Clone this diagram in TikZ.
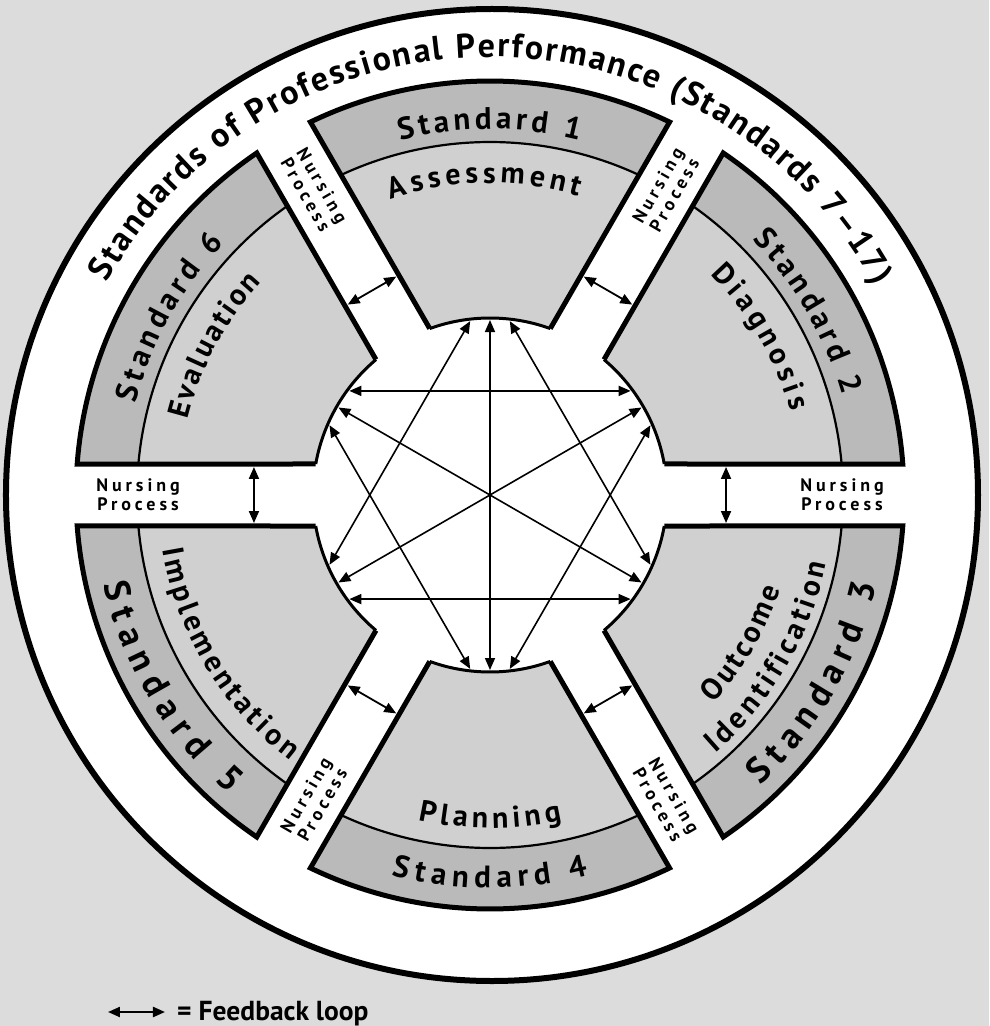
\documentclass[tikz,border=0pt]{standalone}
\usepackage{fontspec}
\setmainfont{PT Sans}
\usetikzlibrary{arrows.meta,decorations.text}

\definecolor{bggray}{RGB}{220,220,220}
\definecolor{secgray}{RGB}{208,208,208}
\definecolor{bandgray}{RGB}{186,186,186}

\newcommand\titlefont{\bfseries\fontsize{34}{34}\selectfont}
\newcommand\stdfont{\bfseries\fontsize{31}{31}\selectfont}
\newcommand\bigstdfont{\bfseries\fontsize{36}{36}\selectfont}
\newcommand\namefont{\bfseries\fontsize{30}{30}\selectfont}
\newcommand\npfont{\bfseries\fontsize{18}{19}\selectfont\addfontfeature{LetterSpace=22}}

% radius, start angle, end angle, font, text
\newcommand\arctext[5]{%
  \path[decorate, decoration={text along path, text={|#4|#5}, text align={fit to path}}]
    (#2:#1) arc[start angle=#2, end angle=#3, radius=#1];}

\begin{document}
\begin{tikzpicture}[
    x=1pt, y=1pt,
    >={Triangle[length=12pt,width=10pt]},
    link/.style={<->, line width=1.6pt},
    loopmark/.style={<->, line width=1.8pt},
    npnode/.style={font=\npfont, align=center, inner sep=0pt}
]
\fill[bggray] (-490,-531) rectangle (499,495);
\useasboundingbox (-490,-531) rectangle (499,495);

\draw[line width=6pt, fill=white] (2,0) circle[radius=486];

\foreach \t in {90,30,-30,-90,-150,150} {
  \pgfmathsetmacro\oa{\t-25.71}
  \pgfmathsetmacro\ob{\t+25.71}
  \pgfmathsetmacro\ba{\t-24.96}
  \pgfmathsetmacro\bb{\t+24.96}
  \pgfmathsetmacro\ia{\t-19.91}
  \pgfmathsetmacro\ib{\t+19.91}
  \fill[secgray] (\oa:414) arc[start angle=\oa, end angle=\ob, radius=414]
    -- (\ib:177) arc[start angle=\ib, end angle=\ia, radius=177] -- cycle;
  \fill[bandgray] (\oa:414) arc[start angle=\oa, end angle=\ob, radius=414]
    -- (\bb:353) arc[start angle=\bb, end angle=\ba, radius=353] -- cycle;
  \draw[line width=2.2pt] (\ba:353) arc[start angle=\ba, end angle=\bb, radius=353];
  \draw[line width=3pt] (\ia:177) arc[start angle=\ia, end angle=\ib, radius=177];
  \draw[line width=5pt, line join=miter] (\ia:177) -- (\oa:414)
    arc[start angle=\oa, end angle=\ob, radius=414] -- (\ib:177);
}

\arctext{438}{151}{28.5}{\titlefont}{Standards of Professional Performance (Standards 7–17)}

\arctext{366}{104.2}{75.8}{\stdfont}{Standard 1}
\arctext{366}{44.2}{15.8}{\stdfont}{Standard 2}
\arctext{397}{-47}{-13}{\bigstdfont}{Standard 3}
\arctext{393}{-104.5}{-75.5}{\stdfont}{Standard 4}
\arctext{397}{193}{229}{\bigstdfont}{Standard 5}
\arctext{366}{165.5}{136.5}{\stdfont}{Standard 6}

\arctext{312}{108.5}{73.5}{\namefont}{Assessment}
\arctext{312}{45}{15.5}{\namefont}{Diagnosis}
\arctext{305}{-43}{-18}{\namefont}{Outcome}
\arctext{343}{-49}{-11.5}{\namefont}{Identification}
\arctext{333}{-102.5}{-77.5}{\namefont}{Planning}
\arctext{332}{189.5}{233}{\namefont}{Implementation}
\arctext{312}{166}{137}{\namefont}{Evaluation}

\foreach \s/\a in {A/90,D/30,O/-30,P/-90,I/-150,E/150} {
  \coordinate (\s-l) at (\a+6.5:175);
  \coordinate (\s-c) at (\a:175);
  \coordinate (\s-r) at (\a-6.5:175);
}
\foreach \u/\v in {A-c/P-c,D-c/I-c,E-c/O-c,A-l/I-r,A-r/O-l,I-l/O-r,E-r/D-l,E-l/P-r,D-r/P-l}
  \draw[link] (\u) -- (\v);

\foreach \g in {0,60,...,300} {
  \coordinate (fb\g-a) at (\g+6.77:237.7);
  \coordinate (fb\g-b) at (\g-6.77:237.7);
  \draw[loopmark] (fb\g-a) -- (fb\g-b);
}

\foreach \g/\r in {0/0,60/60,120/-60,180/0,240/60,300/-60}
  \node[npnode, rotate=\r] (np\g) at (\g:352) {Nursing\\Process};

\coordinate (key-a) at (-382,-517);
\coordinate (key-b) at (-325,-517);
\draw[loopmark, line width=2.2pt] (key-a) -- (key-b);
\node[anchor=base west, inner sep=0pt, font=\bfseries\fontsize{27.5}{27.5}\selectfont]
  (key) at (-313,-525) {= Feedback loop};
\end{tikzpicture}
\end{document}
